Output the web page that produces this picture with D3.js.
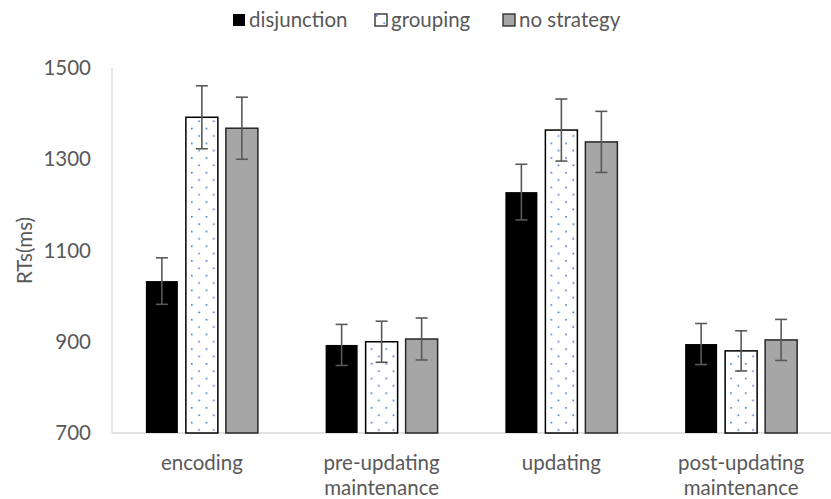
<!DOCTYPE html>
<html>
<head>
<meta charset="utf-8">
<script src="https://cdn.jsdelivr.net/npm/d3@7"></script>
<style>
  body { margin: 0; background: #fff; }
  svg { font-family: Lato, "Open Sans", sans-serif; }
</style>
</head>
<body>
<svg id="chart" width="831" height="499"></svg>
<script>
var phases = ["encoding", "pre-updating maintenance", "updating", "post-updating maintenance"];
var phaseLines = [["encoding"], ["pre-updating", "maintenance"], ["updating"], ["post-updating", "maintenance"]];
var strategies = ["disjunction", "grouping", "no strategy"];
var disjunction = [1033, 893, 1228, 895];
var grouping = [1392, 900, 1364, 880];
var noStrategy = [1368, 906, 1338, 904];
var disjunctionErr = [51, 45, 61, 45];
var groupingErr = [69, 45, 68, 44];
var noStrategyErr = [68, 46, 67, 45];
var yTicks = [700, 900, 1100, 1300, 1500];

var svg = d3.select("#chart"),
    margin = {top: 68, right: 0, bottom: 66, left: 112},
    width = +svg.attr("width") - margin.left - margin.right,
    height = +svg.attr("height") - margin.top - margin.bottom;

var fontSize = 20.5;

var series = [
  {key: "disjunction", values: disjunction, err: disjunctionErr},
  {key: "grouping", values: grouping, err: groupingErr},
  {key: "no strategy", values: noStrategy, err: noStrategyErr}
];

// dotted pattern for grouping
var defs = svg.append("defs");
var pat = defs.append("pattern")
    .attr("id", "dots")
    .attr("patternUnits", "userSpaceOnUse")
    .attr("width", 14.7).attr("height", 14.7);
pat.append("rect").attr("width", 14.7).attr("height", 14.7).attr("fill", "#fff");
pat.append("rect").attr("x", 1).attr("y", 1).attr("width", 1.6).attr("height", 1.6).attr("fill", "#4472c4");
pat.append("rect").attr("x", 8.35).attr("y", 8.35).attr("width", 1.6).attr("height", 1.6).attr("fill", "#4472c4");

var fills = {"disjunction": "#000", "grouping": "url(#dots)", "no strategy": "#a6a6a6"};
var strokes = {"disjunction": "none", "grouping": "#000", "no strategy": "#262626"};

var x0 = d3.scaleBand().domain(phases).range([0, width]);
var x1 = d3.scaleBand().domain(strategies).range([0, 112]).paddingInner(0.2);
var y = d3.scaleLinear().domain([700, 1500]).range([height, 0]);

var g = svg.append("g").attr("transform", "translate(" + margin.left + "," + margin.top + ")");

// axes
g.append("line").attr("x1", 0).attr("x2", 0).attr("y1", 0).attr("y2", height)
    .attr("stroke", "#d9d9d9").attr("stroke-width", 1.3);
g.append("line").attr("x1", 0).attr("x2", width).attr("y1", height).attr("y2", height)
    .attr("stroke", "#d9d9d9").attr("stroke-width", 1.3);

g.append("g").selectAll("text")
    .data(yTicks)
    .enter().append("text")
    .attr("x", -21)
    .attr("y", function(d) { return y(d); })
    .attr("dy", "0.35em")
    .attr("text-anchor", "end")
    .attr("font-size", fontSize)
    .attr("fill", "#595959")
    .text(function(d) { return d; });

svg.append("text")
    .attr("transform", "translate(32," + (margin.top + y(1100)) + ") rotate(-90)")
    .attr("text-anchor", "middle")
    .attr("font-size", fontSize)
    .attr("fill", "#595959")
    .text("RTs(ms)");

// category labels
var cat = g.append("g").selectAll("text")
    .data(phases)
    .enter().append("text")
    .attr("text-anchor", "middle")
    .attr("font-size", fontSize)
    .attr("fill", "#595959")
    .attr("x", function(d) { return x0(d) + x0.bandwidth() / 2; })
    .attr("y", height + 37);
cat.selectAll("tspan")
    .data(function(d, i) { return phaseLines[i]; })
    .enter().append("tspan")
    .attr("x", function() { return d3.select(this.parentNode).attr("x"); })
    .attr("dy", function(d, i) { return i == 0 ? 0 : 25; })
    .text(function(d) { return d; });

// bars
var groups = g.append("g").selectAll("g")
    .data(phases)
    .enter().append("g")
    .attr("transform", function(d) { return "translate(" + (x0(d) + x0.bandwidth() / 2 - 56) + ",0)"; });

var items = groups.selectAll("g")
    .data(function(d, i) { return series.map(function(s) { return {key: s.key, value: s.values[i], err: s.err[i]}; }); })
    .enter().append("g");

items.append("rect")
    .attr("x", function(d) { return x1(d.key); })
    .attr("y", function(d) { return y(d.value); })
    .attr("width", x1.bandwidth())
    .attr("height", function(d) { return height - y(d.value); })
    .attr("fill", function(d) { return fills[d.key]; })
    .attr("stroke", function(d) { return strokes[d.key]; })
    .attr("stroke-width", 1.5);

// error bars
function cx(d) { return x1(d.key) + x1.bandwidth() / 2; }
items.append("line")
    .attr("x1", cx).attr("x2", cx)
    .attr("y1", function(d) { return y(d.value + d.err); })
    .attr("y2", function(d) { return y(d.value - d.err); })
    .attr("stroke", "#595959").attr("stroke-width", 1.6);
[1, -1].forEach(function(sign) {
  items.append("line")
      .attr("x1", function(d) { return cx(d) - 6; })
      .attr("x2", function(d) { return cx(d) + 6; })
      .attr("y1", function(d) { return y(d.value + sign * d.err); })
      .attr("y2", function(d) { return y(d.value + sign * d.err); })
      .attr("stroke", "#595959").attr("stroke-width", 1.6);
});

// legend
var legendX = [233, 375, 503];
var legend = svg.append("g").selectAll("g")
    .data(strategies)
    .enter().append("g")
    .attr("transform", function(d, i) { return "translate(" + legendX[i] + ",14)"; });
legend.append("rect")
    .attr("width", 12).attr("height", 12)
    .attr("fill", function(d) { return fills[d]; })
    .attr("stroke", function(d) { return d == "disjunction" ? "none" : "#262626"; })
    .attr("stroke-width", 1.3);
legend.append("text")
    .attr("x", 16).attr("y", 6)
    .attr("dy", "0.35em")
    .attr("font-size", fontSize)
    .attr("fill", "#595959")
    .text(function(d) { return d; });
</script>
</body>
</html>
